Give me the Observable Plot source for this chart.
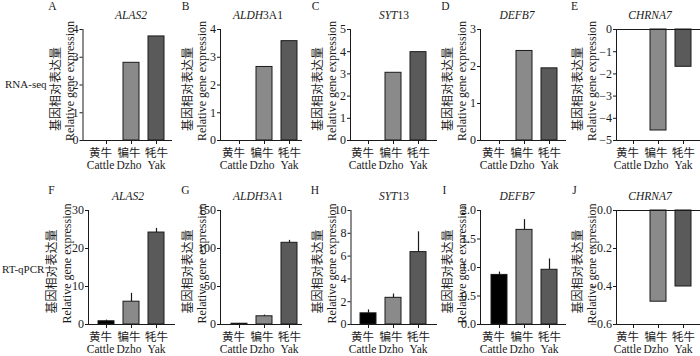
<!DOCTYPE html>
<html><head><meta charset="utf-8">
<script src="https://cdn.jsdelivr.net/npm/d3@7"></script>
<script src="https://cdn.jsdelivr.net/npm/@observablehq/plot@0.6"></script>
<style>
body{margin:0;background:#fff;}
#wrap{position:relative;width:700px;height:356px;overflow:hidden;font-family:"Liberation Serif","Noto Sans CJK SC",serif;color:#1a1a1a;}
#wrap svg{position:absolute;left:0;}
#wrap svg, #wrap svg text, #wrap svg tspan{font-family:"Liberation Serif","Noto Sans CJK SC",serif !important;}
.lab{position:absolute;white-space:nowrap;line-height:1;}
</style></head><body><div id="wrap"></div>
<script>
// ---- data ----
const groups = ["Cattle", "Dzho", "Yak"];
const groupsZh = ["黄牛", "犏牛", "牦牛"];
const geneNames = ["ALAS2", "ALDH3A1", "SYT13", "DEFB7", "CHRNA7"];
const geneItalic = ["ALAS2", "ALDH", "SYT", "DEFB7", "CHRNA7"];
const panelLetters = ["A","B","C","D","E","F","G","H","I","J"];
const rowLabels = ["RNA-seq", "RT-qPCR"];
const yLabelZh = "基因相对表达量";
const yLabelEn = "Relative gene expression";

const rnaALAS2   = [0, 2.80, 3.75];
const rnaALDH3A1 = [0, 2.65, 3.58];
const rnaSYT13   = [0, 3.05, 3.98];
const rnaDEFB7   = [0, 2.42, 1.95];
const rnaCHRNA7  = [0, -4.55, -1.68];

const pcrALAS2      = [0.85, 6.0, 24.2];
const pcrALAS2Err   = [0.3, 2.2, 1.1];
const pcrALDH3A1    = [1.0, 10.8, 107.5];
const pcrALDH3A1Err = [0.5, 1.6, 3.2];
const pcrSYT13      = [0.98, 2.34, 6.35];
const pcrSYT13Err   = [0.30, 0.33, 1.78];
const pcrDEFB7      = [0.87, 1.66, 0.96];
const pcrDEFB7Err   = [0.05, 0.18, 0.19];
const pcrCHRNA7     = [0, -0.48, -0.40];

const ticksRna4 = [0, 1, 2, 3, 4];
const ticksRna5 = [0, 1, 2, 3, 4, 5];
const ticksRna3 = [0, 1, 2, 3];
const ticksRnaNeg = [-5, -4, -3, -2, -1, 0];
const ticksPcrALAS2 = [0, 10, 20, 30];
const ticksPcrALDH = [0, 50, 100, 150];
const ticksPcrSYT = [0, 2, 4, 6, 8, 10];
const ticksPcrDEFB = [0, 0.5, 1.0, 1.5, 2.0];
const ticksPcrCHRNA = [-0.6, -0.4, -0.2, 0.0];

// ---- layout ----
const barColors = ["#000000", "#8a8a8a", "#5a5a5a"];
const labelShift = [-6, -2.5, 0];
const FONT = '"Liberation Serif","Noto Sans CJK SC",serif';
const rows = [
  {top: 0, h: 178, fTop: 29, fBot: 140, titleY: 15.5, letterY: 7},
  {top: 178, h: 178, fTop: 210, fBot: 324, titleY: 196.5, letterY: 191}
];
const panels = [
  {row:0, g:0, values:rnaALAS2, errors:null, domain:[0,4], ticks:ticksRna4, fmt:null, axis:82.5, end:172, c0:106, zhX:56, enX:70, tx:131, lx:52.5},
  {row:0, g:1, values:rnaALDH3A1, errors:null, domain:[0,4], ticks:ticksRna4, fmt:null, axis:220, end:302, c0:239, zhX:187.5, enX:201.5, tx:258, lx:185.5},
  {row:0, g:2, values:rnaSYT13, errors:null, domain:[0,5], ticks:ticksRna5, fmt:null, axis:350, end:437, c0:368, zhX:317.5, enX:331.5, tx:394, lx:315.5},
  {row:0, g:3, values:rnaDEFB7, errors:null, domain:[0,3], ticks:ticksRna3, fmt:null, axis:480, end:566, c0:499, zhX:447.5, enX:461.5, tx:517, lx:445.5},
  {row:0, g:4, values:rnaCHRNA7, errors:null, domain:[-5,0], ticks:ticksRnaNeg, fmt:null, axis:616, end:700, c0:633, zhX:578, enX:592, tx:650, lx:574.5},
  {row:1, g:0, values:pcrALAS2, errors:pcrALAS2Err, domain:[0,30], ticks:ticksPcrALAS2, fmt:null, axis:88, end:175, c0:106, zhX:52, enX:66.5, tx:128, lx:51.5},
  {row:1, g:1, values:pcrALDH3A1, errors:pcrALDH3A1Err, domain:[0,150], ticks:ticksPcrALDH, fmt:null, axis:220, end:302, c0:239, zhX:187.5, enX:201.5, tx:258, lx:185.5},
  {row:1, g:2, values:pcrSYT13, errors:pcrSYT13Err, domain:[0,10], ticks:ticksPcrSYT, fmt:null, axis:350.5, end:437, c0:367.5, zhX:317.5, enX:331.5, tx:394, lx:315},
  {row:1, g:3, values:pcrDEFB7, errors:pcrDEFB7Err, domain:[0,2], ticks:ticksPcrDEFB, fmt:d3.format(".1f"), axis:480, end:566, c0:498.5, zhX:447.5, enX:461.5, tx:517, lx:444.5},
  {row:1, g:4, values:pcrCHRNA7, errors:null, domain:[-0.6,0], ticks:ticksPcrCHRNA, fmt:d3.format(".1f"), axis:616, end:700, c0:633, zhX:578, enX:592, tx:650, lx:574.5}
];

const wrap = document.getElementById("wrap");

panels.forEach((p, pi) => {
  const r = rows[p.row];
  const data = groups.map((g, i) => ({g, zh: groupsZh[i], v: p.values[i], e: p.errors ? p.errors[i] : 0}));
  const neg = p.domain[0] < 0;
  const marks = [
    Plot.barY(data, {x: "g", y1: 0, y2: "v", fill: "g", stroke: "#1a1a1a", strokeWidth: 1}),
  ];
  if (p.errors) {
    marks.push(Plot.ruleX(data, {x: "g", y1: "v", y2: d => d.v + d.e, stroke: "#1a1a1a", strokeWidth: 1.2}));
    marks.push(Plot.ruleY(data, {x: "g", y: d => d.v + d.e, insetLeft: 3, insetRight: 3, stroke: "#1a1a1a", strokeWidth: 1.2}));
  }
  if (neg) marks.push(Plot.ruleY([0], {stroke: "#1a1a1a", strokeWidth: 1}));
  marks.push(Plot.ruleY([p.domain[0]], {stroke: "#1a1a1a", strokeWidth: 1}));
  marks.push(Plot.frame({anchor: "left", stroke: "#1a1a1a", strokeWidth: 1}));
  marks.push(Plot.axisY(p.ticks, {tickSize: 3, tickPadding: 1.5, tickFormat: p.fmt || undefined, label: null, fontSize: 12}));
  marks.push(Plot.axisX({tickSize: 4, tickFormat: () => "", label: null}));
  // two-line category labels (Chinese over English)
  data.forEach((d, i) => {
    marks.push(Plot.text([d], {x: "g", text: "zh", frameAnchor: "bottom", dy: 16, dx: labelShift[i], fontSize: 11.5}));
    marks.push(Plot.text([d], {x: "g", text: "g", frameAnchor: "bottom", dy: 28, dx: labelShift[i], fontSize: 11.5}));
  });
  marks.push(Plot.text([yLabelZh], {text: d => d, frameAnchor: "left", textAnchor: "middle", rotate: -90, dx: p.zhX - p.axis, dy: 4, fontSize: 12}));
  marks.push(Plot.text([yLabelEn], {text: d => d, frameAnchor: "left", textAnchor: "middle", rotate: -90, dx: p.enX - p.axis, dy: -4, fontSize: 12}));

  const svg = Plot.plot({
    width: 700, height: r.h,
    marginTop: r.fTop - r.top, marginBottom: r.top + r.h - r.fBot,
    marginLeft: p.axis, marginRight: 700 - p.end,
    x: {type: "band", domain: groups, range: [p.c0 - 12.5, p.c0 + 62.5], paddingInner: 0.36, paddingOuter: 0.18, align: 0.5},
    y: {domain: p.domain},
    color: {domain: groups, range: barColors},
    style: {fontFamily: FONT, fontSize: "11.5px", color: "#1a1a1a", background: "transparent", overflow: "visible"},
    marks
  });
  svg.setAttribute("font-family", FONT);
  svg.style.top = r.top + "px";
  wrap.appendChild(svg);

  // title with mixed italics
  const t = document.createElement("div");
  t.className = "lab";
  const name = geneNames[p.g], it = geneItalic[p.g];
  t.innerHTML = "<i>" + it + "</i>" + name.slice(it.length);
  t.style.fontSize = "11.5px";
  t.style.left = p.tx + "px";
  t.style.top = (r.titleY - 6) + "px";
  t.style.transform = "translateX(-50%)";
  wrap.appendChild(t);

  const l = document.createElement("div");
  l.className = "lab";
  l.textContent = panelLetters[pi];
  l.style.fontSize = "11.5px";
  l.style.left = p.lx + "px";
  l.style.top = (r.letterY - 6) + "px";
  l.style.transform = "translateX(-50%)";
  wrap.appendChild(l);
});

rowLabels.forEach((txt, i) => {
  const d = document.createElement("div");
  d.className = "lab";
  d.textContent = txt;
  d.style.fontSize = "11px";
  d.style.left = (i === 0 ? 5 : 2) + "px";
  d.style.top = ((i === 0 ? 85 : 270) - 6) + "px";
  wrap.appendChild(d);
});
</script></body></html>
